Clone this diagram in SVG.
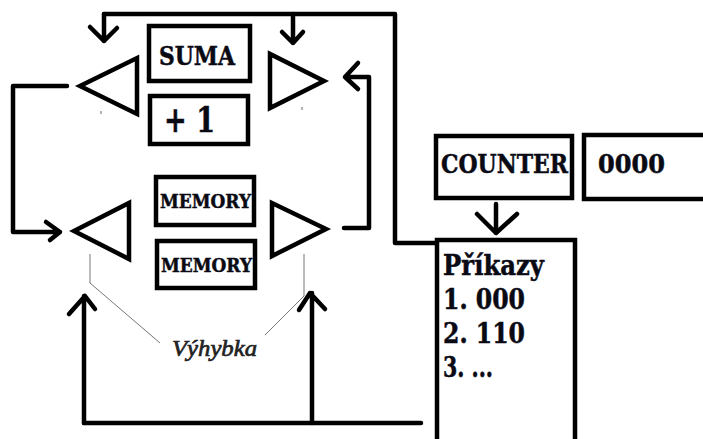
<svg xmlns="http://www.w3.org/2000/svg" width="703" height="439" viewBox="0 0 703 439">
<style>
.b{fill:#fff;stroke:#000;stroke-width:4.5}
.t{fill:none;stroke:#000;stroke-width:4.5;stroke-linejoin:miter}
.c{fill:none;stroke:#000;stroke-width:4.5;stroke-linecap:round;stroke-linejoin:round}
.g{fill:none;stroke:#777;stroke-width:1}
.l{font-family:"DejaVu Serif","Liberation Serif",serif;font-weight:700;fill:#0a0a14;stroke:#0a0a14;stroke-width:.5}
.v{font-family:"Liberation Serif",serif;font-style:italic;font-weight:400;fill:#222;stroke:#222;stroke-width:.7}
</style>
<rect width="703" height="439" fill="#fff"/>
<g id="connectors">
<path class="c" d="M104 14H395V243H436"/>
<path class="c" d="M104 14V41M90 27L104 41L117 28"/>
<path class="c" d="M293 14V43M282 32L293 43L303 32"/>
<path class="c" d="M344 228H369V77H345M358 63L345 77L358 89"/>
<path class="c" d="M67 86H13V232H60M46 222L60 232L50 240"/>
<path class="c" d="M84 423H421"/>
<path class="c" d="M84 423V296M69 314L85 296L95 309"/>
<path class="c" d="M312 423V293M299 310L310 293L325 309"/>
<path class="g" d="M90 254V283L160 343"/>
<path class="g" d="M304 254V296L265 335"/>
<path d="M101 111V114M302 107V110" stroke="#666" stroke-width="1" fill="none"/>
<path class="c" d="M496 204V233M477 214L496 233L517 214"/>
</g>
<g id="suma"><rect class="b" x="149" y="26" width="101" height="55"/><text class="l" x="159" y="65" font-size="26" textLength="76" lengthAdjust="spacingAndGlyphs">SUMA</text></g>
<g id="plus1"><rect class="b" x="150" y="96" width="98" height="48"/><text class="l" x="164" y="132" font-size="35" textLength="51" lengthAdjust="spacingAndGlyphs">+ 1</text></g>
<g id="memory1"><rect class="b" x="156" y="177" width="98" height="48"/><text class="l" x="160" y="208" font-size="19" textLength="91" lengthAdjust="spacingAndGlyphs">MEMORY</text></g>
<g id="memory2"><rect class="b" x="157" y="241" width="98" height="47"/><text class="l" x="161" y="272" font-size="19" textLength="91" lengthAdjust="spacingAndGlyphs">MEMORY</text></g>
<g id="switch1"><polygon class="t" points="80,86 137,58 137,114"/></g>
<g id="switch2"><polygon class="t" points="270,54 270,108 324,81"/></g>
<g id="switch3"><polygon class="t" points="74,231 129,203 129,259"/></g>
<g id="switch4"><polygon class="t" points="272,203 272,256 326,229"/></g>
<g id="counter"><rect class="b" x="436" y="136" width="136" height="62"/><text class="l" x="441" y="173" font-size="26" textLength="127" lengthAdjust="spacingAndGlyphs">COUNTER</text></g>
<g id="value"><rect class="b" x="584" y="135" width="125" height="64"/><text class="l" x="598" y="173" font-size="26" textLength="67" lengthAdjust="spacingAndGlyphs">0000</text></g>
<g id="prikazy"><rect class="b" x="437" y="240" width="138" height="210"/>
<text class="l" x="443" y="275" font-size="27" textLength="101" lengthAdjust="spacingAndGlyphs">Příkazy</text>
<text class="l" x="443" y="309" font-size="27" textLength="82" lengthAdjust="spacingAndGlyphs">1. 000</text>
<text class="l" x="443" y="343" font-size="27" textLength="82" lengthAdjust="spacingAndGlyphs">2. 110</text>
<text class="l" x="443" y="377" font-size="27" textLength="50" lengthAdjust="spacingAndGlyphs">3. ...</text></g>
<g id="label"><text class="v" x="172" y="356" font-size="24" textLength="85" lengthAdjust="spacingAndGlyphs">Výhybka</text></g>
</svg>
